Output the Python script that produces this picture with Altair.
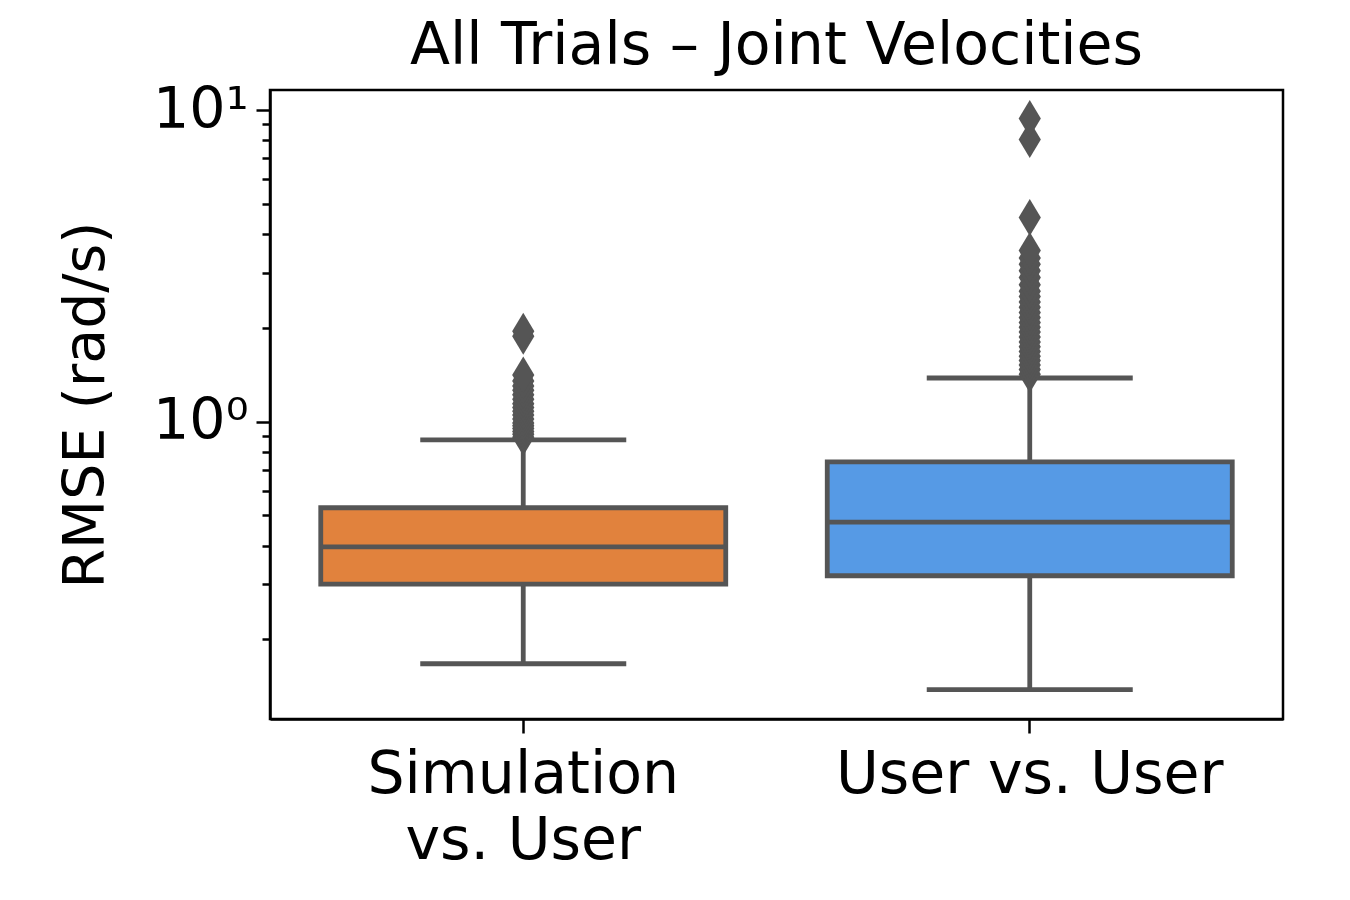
import altair as alt
import pandas as pd

# ---- data ----
groups = ["Simulation vs. User", "User vs. User"]
box_colors = ["#E1823D", "#569AE5"]
whisker_low = [0.167, 0.138]
q1 = [0.301, 0.320]
median = [0.396, 0.476]
q3 = [0.529, 0.743]
whisker_high = [0.874, 1.38]

sim_outliers = [0.89, 0.91, 0.93, 0.95, 0.97, 0.99, 1.02, 1.05, 1.08, 1.11,
                1.14, 1.18, 1.22, 1.26, 1.30, 1.35, 1.41, 1.88, 1.95]
user_outliers = [1.42, 1.47, 1.52, 1.57, 1.62, 1.68, 1.74, 1.80, 1.87, 1.94,
                 2.01, 2.08, 2.16, 2.24, 2.33, 2.42, 2.52, 2.62, 2.75, 2.90,
                 3.05, 3.20, 3.35, 3.54, 4.52, 8.04, 9.39]

y_ticks = [0.2, 0.3, 0.4, 0.5, 0.6, 0.7, 0.8, 0.9, 1, 2, 3, 4, 5, 6, 7, 8, 9, 10]

stats = pd.DataFrame({
    "group": groups, "lo": whisker_low, "q1": q1, "med": median,
    "q3": q3, "hi": whisker_high, "color": box_colors,
})
outl = pd.DataFrame({
    "group": [groups[0]] * len(sim_outliers) + [groups[1]] * len(user_outliers),
    "value": sim_outliers + user_outliers,
})

GRAY = "#555555"
LW = 4.8
FONT = "DejaVu Sans"
FS = 57
FS_T = 58.5

xenc = alt.X(
    "group:N", sort=groups, title=None,
    scale=alt.Scale(paddingInner=0, paddingOuter=0),
    axis=alt.Axis(
        labelAngle=0, labelFontSize=FS_T, labelFont=FONT, labelColor="black",
        labelExpr="datum.value == 'Simulation vs. User' ? ['Simulation', 'vs. User'] : datum.label",
        labelLineHeight=66, labelPadding=13, labelBaseline="top", labelLimit=800,
        tickSize=14, tickWidth=2.5, tickColor="black",
        domainColor="black", domainWidth=2.5, grid=False,
    ),
)

yscale = alt.Scale(type="log", domain=[0.111, 11.6], nice=False)
yaxis = alt.Axis(
    values=y_ticks,
    labelExpr="datum.value == 1 ? '10⁰' : (datum.value == 10 ? '10¹' : '')",
    labelFontSize=FS, labelFont=FONT, labelColor="black", labelPadding=8,
    tickSize={"expr": "datum.value == 1 || datum.value == 10 ? 14 : 8"},
    tickWidth=2.5, tickColor="black",
    domainColor="black", domainWidth=2.5, grid=False,
    title="RMSE  (rad/s)", titleFontSize=FS, titleFont=FONT,
    titleFontWeight="normal", titleColor="black", titlePadding=37,
)

base = alt.Chart(stats)

lower = base.mark_rule(color=GRAY, strokeWidth=LW).encode(
    x=xenc, y=alt.Y("lo:Q", scale=yscale, axis=yaxis), y2="q1:Q")
upper = base.mark_rule(color=GRAY, strokeWidth=LW).encode(
    x=xenc, y=alt.Y("q3:Q", scale=yscale), y2="hi:Q")
cap_lo = base.mark_tick(color=GRAY, thickness=LW, size=206, opacity=1).encode(
    x=xenc, y=alt.Y("lo:Q", scale=yscale))
cap_hi = base.mark_tick(color=GRAY, thickness=LW, size=206, opacity=1).encode(
    x=xenc, y=alt.Y("hi:Q", scale=yscale))
box = base.mark_bar(size=405, stroke=GRAY, strokeWidth=LW).encode(
    x=xenc, y=alt.Y("q1:Q", scale=yscale), y2="q3:Q",
    fill=alt.Color("color:N", scale=None))
med = base.mark_tick(color=GRAY, thickness=LW, size=405, opacity=1).encode(
    x=xenc, y=alt.Y("med:Q", scale=yscale))
pts = alt.Chart(outl).mark_point(
    shape="M0,-1L0.6,0L0,1L-0.6,0Z", size=1369, filled=True,
    color=GRAY, opacity=1, strokeWidth=0,
).encode(x=xenc, y=alt.Y("value:Q", scale=yscale))

chart = alt.layer(lower, upper, cap_lo, cap_hi, box, med, pts).properties(
    width=1013, height=629,
    title=alt.TitleParams(
        "All Trials – Joint Velocities", fontSize=FS_T, font=FONT,
        fontWeight="normal", color="black", anchor="middle",
        baseline="bottom", offset=12, dy=65,
    ),
    view=alt.ViewBackground(stroke="black", strokeWidth=2.5),
    autosize=alt.AutoSizeParams(type="none"),
    padding={"left": 262, "top": 82, "right": 59, "bottom": 170},
).configure_view(stroke="black", strokeWidth=2.5).configure(background="white")

chart.save("out.html", embed_options={"renderer": "svg", "actions": False})
